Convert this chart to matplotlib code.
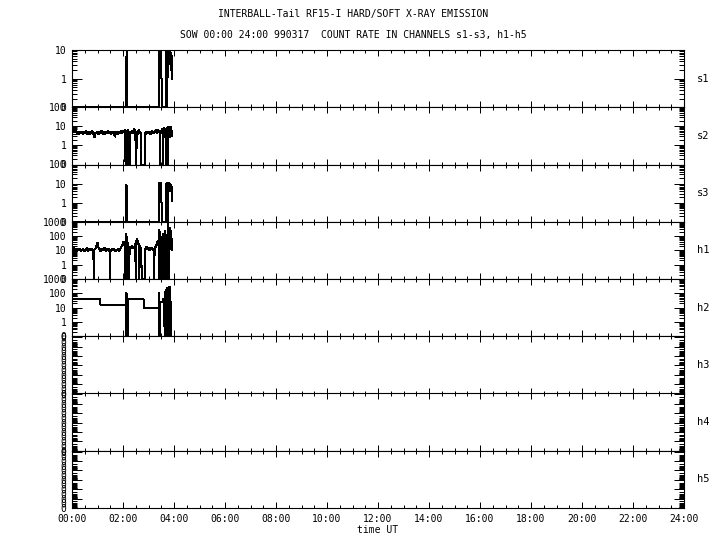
import numpy as np
import matplotlib
matplotlib.use("Agg")
import matplotlib.pyplot as plt
from matplotlib.ticker import FixedLocator, FixedFormatter, LogLocator, NullFormatter, MultipleLocator, FuncFormatter

# ---------------- data (hours UT, count rate) ----------------
title1 = "INTERBALL-Tail RF15-I HARD/SOFT X-RAY EMISSION"
title2 = "SOW 00:00 24:00 990317  COUNT RATE IN CHANNELS s1-s3, h1-h5"
channels = ["s1", "s2", "s3", "h1", "h2", "h3", "h4", "h5"]
y_top = [10, 100, 100, 1000, 1000, None, None, None]

s1_t = [0.00, 2.12, 2.13, 2.14, 2.15, 2.16, 3.42, 3.43, 3.45, 3.47, 3.50, 3.52, 3.69, 3.70,
        3.71, 3.72, 3.73, 3.74, 3.75, 3.76, 3.78, 3.80, 3.82, 3.84, 3.86, 3.88, 3.90, 3.92]
s1_v = [0, 0, 6, 0, 9, 0, 0, 10, 9, 10, 10, 0, 0, 10,
        0, 10, 4, 0, 10, 5, 10, 3, 10, 4, 9, 2, 8, 1]

s2_t = [0.00, 0.04, 0.08, 0.12, 0.16, 0.20, 0.24, 0.28, 0.32, 0.36, 0.40, 0.44, 0.48, 0.52,
        0.56, 0.60, 0.64, 0.68, 0.72, 0.76, 0.80, 0.84, 0.88, 0.92, 0.96, 1.00, 1.04, 1.08,
        1.12, 1.16, 1.20, 1.24, 1.28, 1.32, 1.36, 1.40, 1.44, 1.48, 1.52, 1.56, 1.60, 1.64,
        1.68, 1.72, 1.76, 1.80, 1.84, 1.88, 1.92, 1.96, 2.00, 2.04, 2.08, 2.10, 2.12, 2.14,
        2.16, 2.18, 2.20, 2.22, 2.24, 2.26, 2.28, 2.32, 2.36, 2.40, 2.44, 2.48, 2.52, 2.54,
        2.58, 2.62, 2.66, 2.69, 2.70, 2.87, 2.88, 2.92, 2.96, 3.00, 3.04, 3.08, 3.12, 3.16,
        3.20, 3.24, 3.28, 3.32, 3.36, 3.40, 3.44, 3.45, 3.47, 3.50, 3.53, 3.56, 3.57, 3.59,
        3.62, 3.66, 3.70, 3.72, 3.74, 3.75, 3.77, 3.80, 3.83, 3.86, 3.89, 3.91, 3.92]
s2_v = [8, 6, 9, 5, 6, 4, 5.5, 4, 5, 4.2, 5.5, 3.8, 5, 4.3,
        5.8, 4, 5, 3.6, 5.2, 4.4, 5.6, 3.9, 2.6, 4.8, 4.2, 5.4, 3.8, 5,
        4.4, 6, 4, 5.2, 3.7, 5, 4.5, 5.8, 4.1, 5, 3.9, 5.4, 4.3, 5.2,
        2.8, 4.6, 5.5, 4, 5.1, 4.2, 5.6, 4.4, 6.2, 5, 6.5, 0, 6, 0,
        5, 0, 7, 0, 5, 0, 5.5, 4.4, 6, 4.2, 7.5, 4.6, 0, 5.2,
        4, 6.8, 4.5, 5, 0, 0, 5, 4, 5.4, 4.2, 5, 3.8, 5.6, 4.3,
        5.2, 4.6, 6.5, 4.4, 7, 5, 6, 0, 5.5, 4.5, 8, 5, 0, 6,
        9, 5, 0, 8.5, 4, 0, 10, 3, 9.5, 2.5, 10, 4, 3]

s3_t = [0.00, 2.12, 2.13, 2.14, 2.15, 2.16, 3.42, 3.43, 3.45, 3.47, 3.50, 3.52, 3.69, 3.70,
        3.71, 3.72, 3.73, 3.74, 3.75, 3.76, 3.77, 3.78, 3.80, 3.82, 3.84, 3.86, 3.88, 3.90, 3.92]
s3_v = [0, 0, 9, 0, 8, 0, 0, 11, 10, 11, 9, 0, 0, 10,
        0, 11, 4, 0, 10, 5, 0, 9, 4, 11, 5, 10, 4, 9, 1.2]

h1_t = [0.00, 0.04, 0.08, 0.12, 0.16, 0.20, 0.24, 0.28, 0.32, 0.36, 0.40, 0.44, 0.48, 0.52,
        0.56, 0.60, 0.64, 0.68, 0.72, 0.76, 0.80, 0.84, 0.85, 0.87, 0.92, 0.96, 1.00, 1.04,
        1.08, 1.12, 1.16, 1.20, 1.24, 1.28, 1.32, 1.36, 1.40, 1.44, 1.47, 1.48, 1.50, 1.54,
        1.58, 1.62, 1.66, 1.70, 1.74, 1.78, 1.82, 1.86, 1.90, 1.94, 1.98, 2.02, 2.06, 2.09,
        2.11, 2.12, 2.13, 2.14, 2.16, 2.17, 2.19, 2.20, 2.22, 2.24, 2.26, 2.30, 2.34, 2.38,
        2.42, 2.46, 2.48, 2.50, 2.52, 2.55, 2.58, 2.60, 2.63, 2.64, 2.66, 2.69, 2.72, 2.73,
        2.87, 2.88, 2.92, 2.96, 3.00, 3.04, 3.08, 3.12, 3.16, 3.20, 3.22, 3.24, 3.28, 3.32,
        3.36, 3.38, 3.40, 3.42, 3.43, 3.45, 3.46, 3.48, 3.51, 3.53, 3.56, 3.58, 3.60, 3.62,
        3.64, 3.66, 3.68, 3.70, 3.72, 3.74, 3.76, 3.78, 3.80, 3.82, 3.84, 3.86, 3.88, 3.90, 3.92]
h1_v = [12, 8, 15, 9, 13, 8.5, 12, 10, 14, 9, 11, 13, 8, 12,
        10, 15, 9, 11, 13, 9.5, 12, 10, 0, 11, 14, 22, 35, 15,
        12, 9, 13, 10, 12, 16, 9, 11, 13, 10, 12, 0, 11, 9,
        12, 10, 13, 9, 11, 10, 12, 9, 14, 18, 25, 40, 20, 0,
        150, 0, 60, 0, 90, 0, 35, 0, 20, 0, 18, 15, 20, 14,
        17, 16, 30, 0, 45, 70, 40, 25, 30, 0, 20, 12, 15, 0,
        0, 14, 18, 12, 15, 10, 13, 16, 11, 14, 0, 12, 18, 25,
        50, 30, 20, 300, 0, 200, 0, 80, 0, 100, 60, 150, 40, 0,
        250, 30, 0, 120, 40, 0, 700, 15, 0, 200, 20, 400, 12, 90, 10]

h2_t = [0.00, 1.11, 1.11, 2.12, 2.12, 2.13, 2.14, 2.15, 2.16, 2.18, 2.18, 2.81, 2.81, 3.41,
        3.41, 3.43, 3.46, 3.46, 3.55, 3.55, 3.62, 3.63, 3.65, 3.66, 3.68, 3.69, 3.71, 3.72,
        3.74, 3.75, 3.77, 3.78, 3.80, 3.81, 3.83, 3.84, 3.86, 3.87]
h2_v = [37, 37, 16, 16, 0, 120, 0, 90, 0, 0, 37, 37, 8.8, 8.8,
        110, 0, 0, 25, 25, 40, 40, 0, 130, 0, 180, 0, 150, 0,
        250, 0, 200, 0, 300, 0, 160, 0, 280, 0]

series_t = [s1_t, s2_t, s3_t, h1_t, h2_t, None, None, None]
series_v = [s1_v, s2_v, s3_v, h1_v, h2_v, None, None, None]

# ---------------- figure ----------------
plt.rcParams["font.family"] = ["DejaVu Sans Mono"]
plt.rcParams["lines.antialiased"] = False
FS = 7

W, H = 720, 550
fig = plt.figure(figsize=(W / 100, H / 100), dpi=100)
x0, x1 = 72 / W, 684 / W
ytop, ybot = 1 - 50 / H, 1 - 508 / H
ph = (ytop - ybot) / len(channels)

for i, ch in enumerate(channels):
    ax = fig.add_axes([x0, ytop - (i + 1) * ph, x1 - x0, ph])
    ax.set_xlim(0, 24)
    ax.set_yscale("log")
    ax.xaxis.set_major_locator(MultipleLocator(2))
    ax.xaxis.set_minor_locator(MultipleLocator(0.5))
    if i == len(channels) - 1:
        ax.xaxis.set_major_formatter(FuncFormatter(lambda v, p: "%02d:00" % int(round(v))))
        ax.set_xlabel("time UT", fontsize=FS, labelpad=1)
    else:
        ax.xaxis.set_major_formatter(NullFormatter())
    ax.tick_params(axis="x", which="major", direction="in", top=True, bottom=True,
                   length=4.3, width=0.72, labelsize=FS, pad=4)
    ax.tick_params(axis="x", which="minor", direction="in", top=True, bottom=True,
                   length=2.2, width=0.72)

    if y_top[i] is not None:
        ylo = 0.1
        ax.set_ylim(ylo, y_top[i])
        decs = [ylo * 10 ** k for k in range(int(round(np.log10(y_top[i] / ylo))) + 1)]
        labs = ["0"] + ["%d" % round(d) for d in decs[1:]]
        ax.yaxis.set_major_locator(FixedLocator(decs))
        ax.yaxis.set_major_formatter(FixedFormatter(labs))
        ax.yaxis.set_minor_locator(LogLocator(base=10, subs=np.arange(2, 10), numticks=20))
        ax.yaxis.set_minor_formatter(NullFormatter())
        t = np.array(series_t[i])
        v = np.array(series_v[i], dtype=float)
        ax.plot(t, np.where(v > ylo, v, ylo), color="black", lw=0.72, solid_joinstyle="miter")
    else:
        ax.set_ylim(1.0, 10 ** -6.1)
        decs = [10.0 ** -k for k in range(7)]
        ax.yaxis.set_major_locator(FixedLocator(decs))
        ax.yaxis.set_major_formatter(FixedFormatter(["0"] * len(decs)))
        ax.yaxis.set_minor_locator(LogLocator(base=10, subs=np.arange(2, 10), numticks=20))
        ax.yaxis.set_minor_formatter(FuncFormatter(
            lambda v, p: "0" if abs(v / 10 ** np.floor(np.log10(v) + 1e-9) - 3) < 0.01 else ""))
        ax.tick_params(axis="y", which="minor", labelsize=FS, pad=4)

    ax.tick_params(axis="y", which="major", direction="in", left=True, right=True,
                   length=7.2, width=0.72, labelsize=FS, pad=4)
    ax.tick_params(axis="y", which="minor", direction="in", left=True, right=True,
                   length=3.6, width=0.72)
    for s in ax.spines.values():
        s.set_linewidth(0.8)

    fig.text(697 / W, ytop - (i + 0.5) * ph, ch, ha="left", va="center", fontsize=FS + 0.5)

fig.text(353 / W, 1 - 14 / H, title1, ha="center", va="center", fontsize=FS)
fig.text(353 / W, 1 - 35 / H, title2, ha="center", va="center", fontsize=FS)

fig.savefig("out.png", dpi=100, facecolor="white")
